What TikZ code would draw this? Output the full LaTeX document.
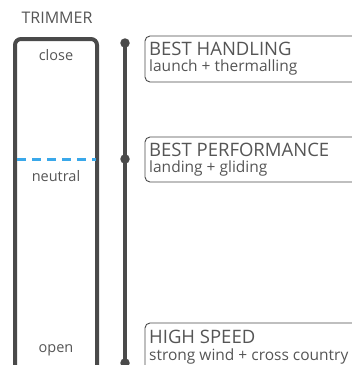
\documentclass[tikz,border=0pt]{standalone}
\usepackage{fontspec}
\setmainfont{Open Sans}
\definecolor{dk}{HTML}{4A4A4A}
\definecolor{txt}{HTML}{555555}
\definecolor{bl}{HTML}{3AA8EA}
\begin{document}
\begin{tikzpicture}[x=1pt,y=-1pt,
  lbl/.style={text=txt,font=\fontsize{14.5}{15}\selectfont,inner sep=0},
  ttl/.style={text=txt,font=\fontsize{18.5}{19}\selectfont,inner sep=0,anchor=west},
  sub/.style={text=txt,font=\fontsize{15.5}{16}\selectfont,inner sep=0,anchor=west},
  infobox/.style={draw=dk,line width=0.9pt,rounded corners=5pt},
  dot/.style={circle,fill=dk,inner sep=0,minimum size=9.5pt}]
\useasboundingbox (0,0) rectangle (352,365);
\clip (0,0) rectangle (352,365);
\node[lbl,font=\fontsize{16}{17}\selectfont] (trim) at (57,18) {TRIMMER};
\draw[dk,line width=4pt,rounded corners=6pt] (15,372) -- (15,39) -- (97,39) -- (97,372);
\node[lbl] (close) at (56,55) {close};
\node[lbl] (neutral) at (56,176) {neutral};
\node[lbl] (open) at (56,350) {open};
\coordinate (dl) at (17,159);
\coordinate (dr) at (96,159);
\draw[bl,line width=3pt,dash pattern=on 9pt off 6pt] (dl) -- (dr);
\node[dot] (d1) at (125,43) {};
\node[dot] (d2) at (125,159) {};
\node[dot] (d3) at (125,363) {};
\draw[dk,line width=4pt] (d1.center) -- (d3.center);
\draw[infobox] (145,36) rectangle (380,82);
\draw[infobox] (145,137) rectangle (380,182);
\draw[infobox] (145,323) rectangle (380,390);
\node[ttl] (t1) at (149,49) {BEST HANDLING};
\node[sub] (s1) at (149,67.5) {launch + thermalling};
\node[ttl] (t2) at (149,150) {BEST PERFORMANCE};
\node[sub] (s2) at (149,168.5) {landing + gliding};
\node[ttl] (t3) at (149,337) {HIGH SPEED};
\node[sub] (s3) at (149,356) {strong wind + cross country};
\end{tikzpicture}
\end{document}
